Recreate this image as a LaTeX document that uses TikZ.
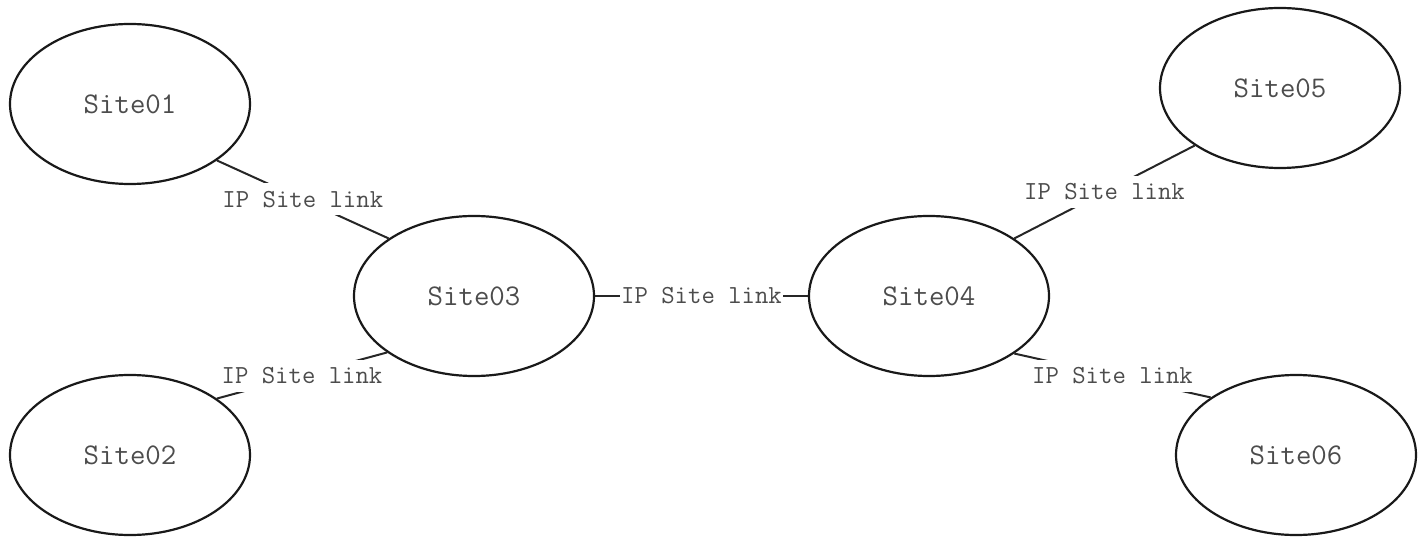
\documentclass[tikz,border=0pt]{standalone}
\usepackage{fontspec}
\usetikzlibrary{shapes.geometric}
\begin{document}
\begin{tikzpicture}[x=0.5pt,y=0.5pt,
  site/.style={ellipse,draw=black!90,line width=1.1pt,minimum width=120pt,minimum height=80pt,
    inner sep=0pt,text=black!70,font=\ttfamily\fontsize{15}{18}\selectfont},
  link/.style={draw=black!85,line width=1pt},
  linklabel/.style={fill=white,inner xsep=0.5pt,inner ysep=0pt,minimum height=16pt,
    text=black!70,font=\ttfamily\fontsize{13}{16}\selectfont}]
\useasboundingbox (0,0) rectangle (1424,536);
\node[site] (s01) at (130,432) {Site01};
\node[site] (s02) at (130,81) {Site02};
\node[site] (s03) at (474,240) {Site03};
\node[site] (s04) at (929,240) {Site04};
\node[site] (s05) at (1280,448) {Site05};
\node[site] (s06) at (1296,81) {Site06};
\draw[link] (s01.-33) -- node[linklabel] (l1) {IP Site link} (s03.146);
\draw[link] (s02.33) -- node[linklabel] (l2) {IP Site link} (s03.213);
\draw[link] (s03.east) -- node[linklabel] (l3) {IP Site link} (s04.west);
\draw[link] (s04.34) -- node[linklabel] (l4) {IP Site link} (s05.214);
\draw[link] (s04.-34) -- node[linklabel] (l5) {IP Site link} (s06.146);
\end{tikzpicture}
\end{document}
